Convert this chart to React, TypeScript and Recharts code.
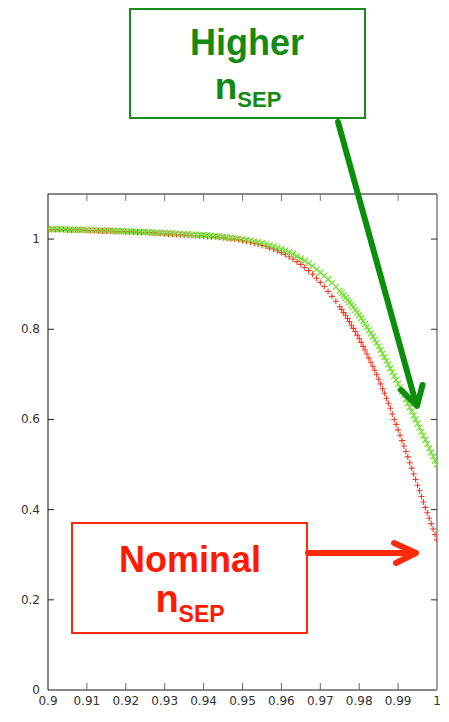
import React from 'react';
import { ScatterChart, Scatter, XAxis, YAxis } from 'recharts';

// x positions of the sampled points
const xValues = [
  0.900, 0.901, 0.902, 0.903, 0.904, 0.905, 0.906, 0.907, 0.908, 0.909,
  0.910, 0.911, 0.912, 0.913, 0.914, 0.915, 0.916, 0.917, 0.918, 0.919,
  0.920, 0.921, 0.922, 0.923, 0.924, 0.925, 0.926, 0.927, 0.928, 0.929,
  0.930, 0.931, 0.932, 0.933, 0.934, 0.935, 0.936, 0.937, 0.938, 0.939,
  0.940, 0.941, 0.942, 0.943, 0.944, 0.945, 0.946, 0.947, 0.948, 0.949,
  0.950, 0.951, 0.952, 0.953, 0.954, 0.955, 0.956, 0.957, 0.958, 0.959,
  0.960, 0.961, 0.962, 0.963, 0.964, 0.965, 0.966, 0.967, 0.968, 0.969,
  0.970, 0.971, 0.972, 0.973, 0.974,
  0.975, 0.9755, 0.976, 0.9765, 0.977, 0.9775, 0.978, 0.9785, 0.979, 0.9795,
  0.980, 0.9805, 0.981, 0.9815, 0.982, 0.9825, 0.983, 0.9835, 0.984, 0.9845,
  0.985, 0.9855, 0.986, 0.9865, 0.987, 0.9875, 0.988, 0.9885, 0.989, 0.9895,
  0.990, 0.9905, 0.991, 0.9915, 0.992, 0.9925, 0.993, 0.9935, 0.994, 0.9945,
  0.995, 0.9955, 0.996, 0.9965, 0.997, 0.9975, 0.998, 0.9985, 0.999, 0.9995,
  1.000,
];

// Higher n_SEP (green x markers)
const higherValues = [
  1.022, 1.022, 1.022, 1.022, 1.022, 1.021, 1.021, 1.021, 1.021, 1.021,
  1.020, 1.020, 1.020, 1.019, 1.019, 1.019, 1.019, 1.018, 1.018, 1.018,
  1.017, 1.017, 1.017, 1.016, 1.016, 1.016, 1.015, 1.015, 1.014, 1.014,
  1.014, 1.013, 1.013, 1.012, 1.012, 1.011, 1.011, 1.010, 1.010, 1.009,
  1.009, 1.008, 1.007, 1.007, 1.006, 1.005, 1.004, 1.003, 1.002, 1.001,
  1.000, 0.998, 0.997, 0.995, 0.993, 0.991, 0.989, 0.986, 0.984, 0.981,
  0.978, 0.975, 0.971, 0.967, 0.962, 0.957, 0.952, 0.946, 0.940, 0.933,
  0.926, 0.919, 0.911, 0.903, 0.894,
  0.885, 0.880, 0.875, 0.870, 0.865, 0.860, 0.854, 0.849, 0.843, 0.837,
  0.831, 0.825, 0.818, 0.812, 0.805, 0.798, 0.791, 0.784, 0.777, 0.770,
  0.762, 0.754, 0.746, 0.738, 0.730, 0.722, 0.713, 0.705, 0.696, 0.688,
  0.679, 0.671, 0.662, 0.654, 0.645, 0.636, 0.627, 0.618, 0.609, 0.600,
  0.591, 0.582, 0.573, 0.564, 0.555, 0.546, 0.536, 0.527, 0.518, 0.509,
  0.500,
];

// Nominal n_SEP (red + markers)
const nominalValues = [
  1.021, 1.021, 1.021, 1.021, 1.021, 1.020, 1.020, 1.020, 1.020, 1.020,
  1.019, 1.019, 1.019, 1.018, 1.018, 1.018, 1.018, 1.017, 1.017, 1.017,
  1.016, 1.016, 1.016, 1.015, 1.015, 1.015, 1.014, 1.014, 1.013, 1.013,
  1.012, 1.011, 1.011, 1.010, 1.010, 1.009, 1.009, 1.008, 1.008, 1.007,
  1.007, 1.006, 1.005, 1.005, 1.004, 1.003, 1.002, 1.001, 1.000, 0.999,
  0.997, 0.995, 0.993, 0.991, 0.989, 0.986, 0.984, 0.980, 0.978, 0.974,
  0.970, 0.966, 0.961, 0.956, 0.950, 0.944, 0.937, 0.930, 0.922, 0.913,
  0.904, 0.895, 0.884, 0.873, 0.862,
  0.850, 0.844, 0.837, 0.831, 0.824, 0.817, 0.809, 0.802, 0.795, 0.787,
  0.779, 0.771, 0.762, 0.754, 0.745, 0.736, 0.727, 0.718, 0.709, 0.699,
  0.689, 0.679, 0.668, 0.658, 0.647, 0.636, 0.625, 0.612, 0.600, 0.589,
  0.577, 0.565, 0.553, 0.541, 0.529, 0.517, 0.504, 0.492, 0.479, 0.467,
  0.454, 0.442, 0.429, 0.417, 0.405, 0.393, 0.381, 0.369, 0.357, 0.345,
  0.333,
];

const xTicks = [0.9, 0.91, 0.92, 0.93, 0.94, 0.95, 0.96, 0.97, 0.98, 0.99, 1];
const xTickLabels = ['0.9', '0.91', '0.92', '0.93', '0.94', '0.95', '0.96', '0.97', '0.98', '0.99', '1'];
const yTicks = [0, 0.2, 0.4, 0.6, 0.8, 1];
const yTickLabels = ['0', '0.2', '0.4', '0.6', '0.8', '1'];

const higherPts = xValues.map((x, i) => ({ x, y: higherValues[i] }));
const nominalPts = xValues.map((x, i) => ({ x, y: nominalValues[i] }));

const TICK_FONT = '"DejaVu Sans", sans-serif';

const PlusMark = (props: any) => {
  const { cx, cy } = props;
  if (cx == null || cy == null) return null;
  return (
    <path
      d={`M${cx - 3},${cy} L${cx + 3},${cy} M${cx},${cy - 3} L${cx},${cy + 3}`}
      stroke="#f03a24"
      strokeWidth={1.1}
      fill="none"
    />
  );
};

const CrossMark = (props: any) => {
  const { cx, cy } = props;
  if (cx == null || cy == null) return null;
  return (
    <path
      d={`M${cx - 3},${cy - 3} L${cx + 3},${cy + 3} M${cx - 3},${cy + 3} L${cx + 3},${cy - 3}`}
      stroke="#70e030"
      strokeWidth={1.2}
      fill="none"
    />
  );
};

const labelFor = (v: number, ticks: number[], labels: string[]) => {
  const i = ticks.findIndex((t) => Math.abs(t - v) < 1e-9);
  return i >= 0 ? labels[i] : String(v);
};

const isInnerX = (v: number) => v > 0.9 + 1e-9 && v < 1 - 1e-9;

const BottomTick = (props: any) => {
  const { x, y, payload } = props;
  const v = payload.value;
  return (
    <g>
      {isInnerX(v) && <path d={`M${x},${y} L${x},${y - 7}`} stroke="#666" strokeWidth={1} fill="none" />}
      <text x={x} y={y + 15} textAnchor="middle" fontFamily={TICK_FONT} fontSize={12} fill="#333">
        {labelFor(v, xTicks, xTickLabels)}
      </text>
    </g>
  );
};

const TopTick = (props: any) => {
  const { x, y, payload } = props;
  const v = payload.value;
  return (
    <g>
      {isInnerX(v) && <path d={`M${x},${y} L${x},${y + 7}`} stroke="#777" strokeWidth={1} fill="none" />}
    </g>
  );
};

const LeftTick = (props: any) => {
  const { x, y, payload } = props;
  const v = payload.value;
  return (
    <g>
      {v > 0 && <path d={`M${x},${y} L${x + 6},${y}`} stroke="#222" strokeWidth={1} fill="none" />}
      <text x={x - 8} y={y + 4} textAnchor="end" fontFamily={TICK_FONT} fontSize={12} fill="#333">
        {labelFor(v, yTicks, yTickLabels)}
      </text>
    </g>
  );
};

const RightTick = (props: any) => {
  const { x, y, payload } = props;
  const v = payload.value;
  return (
    <g>
      {v > 0 && <path d={`M${x},${y} L${x - 6},${y}`} stroke="#333" strokeWidth={1} fill="none" />}
    </g>
  );
};

const BOLD = '"Liberation Sans", Arial, sans-serif';

export default function App() {
  return (
    <div style={{ position: 'absolute', left: 0, top: 0, width: 449, height: 722, background: '#fff' }}>
      <ScatterChart width={449} height={722} margin={{ top: 194, right: 12, left: 8, bottom: 0 }}>
        <XAxis
          xAxisId="b"
          type="number"
          dataKey="x"
          domain={[0.9, 1]}
          ticks={xTicks}
          interval={0}
          orientation="bottom"
          height={32}
          tickSize={0}
          tickMargin={0}
          tickLine={false}
          axisLine={{ stroke: '#111', strokeWidth: 1 }}
          tick={(p: any) => <BottomTick {...p} />}
          allowDataOverflow
        />
        <XAxis
          xAxisId="t"
          type="number"
          dataKey="x"
          domain={[0.9, 1]}
          ticks={xTicks}
          interval={0}
          orientation="top"
          mirror
          height={30}
          tickSize={0}
          tickMargin={0}
          tickLine={false}
          axisLine={{ stroke: '#111', strokeWidth: 1 }}
          tick={(p: any) => <TopTick {...p} />}
          allowDataOverflow
        />
        <YAxis
          yAxisId="l"
          type="number"
          dataKey="y"
          domain={[0, 1.1]}
          ticks={yTicks}
          interval={0}
          width={40}
          tickSize={0}
          tickMargin={0}
          tickLine={false}
          axisLine={{ stroke: '#111', strokeWidth: 1 }}
          tick={(p: any) => <LeftTick {...p} />}
          allowDataOverflow
        />
        <YAxis
          yAxisId="r"
          type="number"
          dataKey="y"
          domain={[0, 1.1]}
          ticks={yTicks}
          interval={0}
          orientation="right"
          mirror
          width={30}
          tickSize={0}
          tickMargin={0}
          tickLine={false}
          axisLine={{ stroke: '#888', strokeWidth: 1.6 }}
          tick={(p: any) => <RightTick {...p} />}
          allowDataOverflow
        />
        <Scatter
          xAxisId="b"
          yAxisId="l"
          data={nominalPts}
          shape={(p: any) => <PlusMark {...p} />}
          isAnimationActive={false}
        />
        <Scatter
          xAxisId="b"
          yAxisId="l"
          data={higherPts}
          shape={(p: any) => <CrossMark {...p} />}
          isAnimationActive={false}
        />
      </ScatterChart>
      <svg
        width={449}
        height={722}
        style={{ position: 'absolute', left: 0, top: 0, pointerEvents: 'none' }}
      >
        {/* Higher n_SEP annotation */}
        <rect x={130} y={9} width={235} height={109} fill="#fff" stroke="#1a8c1a" strokeWidth={2} />
        <text x={247} y={55} textAnchor="middle" fontFamily={BOLD} fontWeight="bold" fontSize={36} fill="#138a13">
          Higher
        </text>
        <text x={248} y={99} textAnchor="middle" fontFamily={BOLD} fontWeight="bold" fill="#138a13">
          <tspan fontSize={37}>n</tspan>
          <tspan fontSize={22} dy={8}>SEP</tspan>
        </text>
        <line x1={338} y1={122} x2={415} y2={400} stroke="#0b8f0b" strokeWidth={6} strokeLinecap="round" />
        <polyline
          points="401,390 417,406 422.5,385"
          fill="none"
          stroke="#0b8f0b"
          strokeWidth={6}
          strokeLinecap="round"
          strokeLinejoin="round"
        />
        {/* Nominal n_SEP annotation */}
        <rect x={72} y={523} width={235} height={110} fill="#fff" stroke="#ff2a0a" strokeWidth={2} />
        <text x={190} y={572} textAnchor="middle" fontFamily={BOLD} fontWeight="bold" fontSize={36} fill="#ff1a00">
          Nominal
        </text>
        <text x={190} y={612} textAnchor="middle" fontFamily={BOLD} fontWeight="bold" fill="#ff1a00">
          <tspan fontSize={38}>n</tspan>
          <tspan fontSize={23} dy={10}>SEP</tspan>
        </text>
        <line x1={308} y1={553} x2={413} y2={553} stroke="#ff2a0a" strokeWidth={6} strokeLinecap="round" />
        <polyline
          points="394,543 416,553 396,563"
          fill="none"
          stroke="#ff2a0a"
          strokeWidth={6}
          strokeLinecap="round"
          strokeLinejoin="round"
        />
      </svg>
    </div>
  );
}
